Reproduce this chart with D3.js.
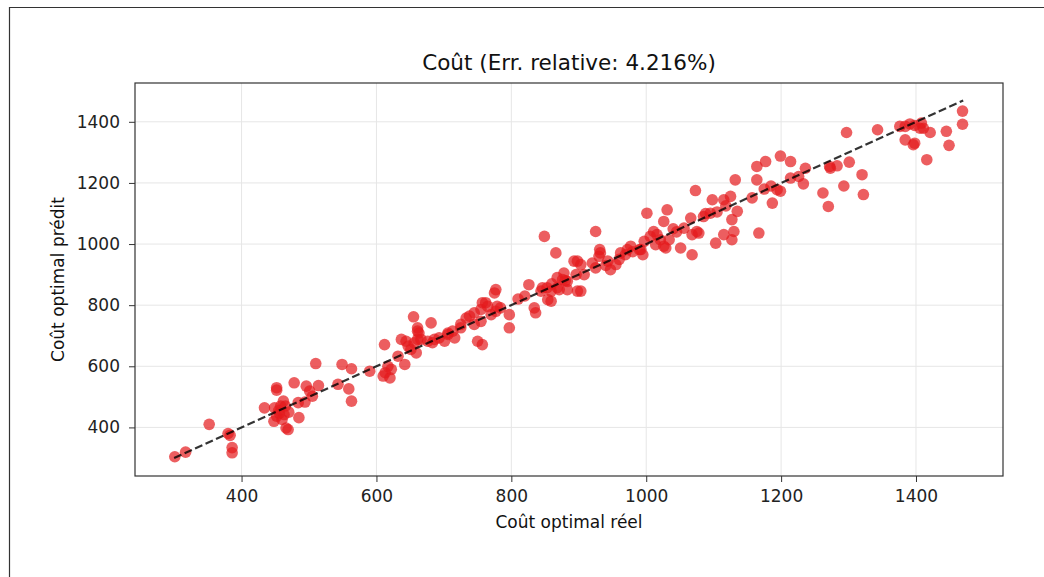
<!DOCTYPE html>
<html><head><meta charset="utf-8">
<script src="https://cdn.jsdelivr.net/npm/d3@7"></script>
<style>
body{margin:0;background:#fff;}
svg{display:block;font-family:"DejaVu Sans",sans-serif;}
</style></head>
<body><svg id="c" width="1044" height="577"></svg>
<script>
const titleText = "Coût (Err. relative: 4.216%)";
const xLabel = "Coût optimal réel";
const yLabel = "Coût optimal prédit";
const xTicks = [400, 600, 800, 1000, 1200, 1400];
const yTicks = [400, 600, 800, 1000, 1200, 1400];
const xDomain = [242, 1529];
const yDomain = [241, 1527];
const diagLine = [300, 1470];
const actual = [301,317,352,380,383,386,386,434,452,452,449,452,460,463,462,469,466,478,484,485,496,501,505,494,514,510,543,549,563,559,563,590,455,458,448,465,470,456,
612,613,617,610,620,622,632,637,642,644,647,651,656,659,661,661,655,661,663,666,676,681,683,686,693,701,706,706,713,716,725,725,733,738,745,745,750,755,755,757,757,762,765,770,775,777,777,779,784,797,797,
826,834,836,844,846,849,853,859,854,859,866,868,868,871,876,878,883,883,893,896,898,898,903,903,908,920,925,925,930,931,932,943,947,955,962,969,972,977,990,992,995,997,1001,1006,1011,1014,1016,1021,1026,1026,1029,1031,1034,1051,1056,1066,1068,1068,1073,1075,1078,1085,1095,1098,1103,1115,1115,1125,1127,1130,1127,1135,1132,1157,1167,1164,1164,1177,1187,1194,1199,1199,1214,1214,1226,1236,1233,1262,1270,1273,1283,1272,1301,1293,1320,1322,1297,1343,1376,1384,1391,1398,1406,1411,1408,1384,1398,1396,1421,1416,1445,1449,1469,1469,
1088,1105,1118,1175,1185,1040,1045,980,960,940,880,860,820,810];
const predicted = [304,319,410,380,374,334,317,464,530,522,464,437,426,442,486,393,398,546,481,432,535,519,502,483,537,609,541,606,592,526,486,584,455,470,420,470,450,447,
671,579,600,568,562,590,633,688,606,682,666,655,677,644,715,688,762,726,709,688,682,742,677,688,693,682,704,709,715,693,737,726,758,764,775,737,682,786,747,808,671,808,796,769,840,851,780,796,791,769,726,
867,791,775,846,857,1025,857,846,818,813,971,857,890,851,884,905,851,878,944,900,846,944,933,846,900,938,922,1041,960,982,971,944,916,933,971,965,982,993,982,982,965,1009,1101,1025,1041,998,1031,1014,1074,993,987,1112,1014,987,1052,1085,965,1031,1175,1041,1036,1090,1101,1145,1003,1031,1145,1156,1080,1041,1014,1107,1210,1151,1036,1210,1254,1270,1134,1178,1288,1173,1270,1216,1221,1248,1197,1167,1123,1248,1256,1254,1268,1190,1227,1162,1365,1374,1385,1385,1393,1388,1379,1379,1396,1341,1330,1325,1365,1276,1369,1323,1435,1392,
1100,1105,1125,1180,1190,1050,1040,975,950,930,880,870,830,820];

const svg = d3.select("#c");
const L = 135, R = 1003, T = 83, B = 476;

// outer frame
svg.append("path").attr("d", "M1044,7.5 H9.5 V577").attr("fill","none").attr("stroke","#333").attr("stroke-width",1.2);

const x = d3.scaleLinear().domain(xDomain).range([L, R]);
const y = d3.scaleLinear().domain(yDomain).range([B, T]);

const g = svg.append("g");
// grid
g.selectAll(".gx").data(xTicks).join("line")
  .attr("x1", d=>x(d)).attr("x2", d=>x(d)).attr("y1", T).attr("y2", B)
  .attr("stroke", "#e6e6e6").attr("stroke-width", 1);
g.selectAll(".gy").data(yTicks).join("line")
  .attr("y1", d=>y(d)).attr("y2", d=>y(d)).attr("x1", L).attr("x2", R)
  .attr("stroke", "#e6e6e6").attr("stroke-width", 1);

// points
const pts = actual.map((v,i)=>[v, predicted[i]]);
g.selectAll("circle").data(pts).join("circle")
  .attr("cx", d=>x(d[0])).attr("cy", d=>y(d[1])).attr("r", 5.8)
  .attr("fill", "#e41a1c").attr("fill-opacity", 0.7);

// diagonal
g.append("line")
  .attr("x1", x(diagLine[0])).attr("y1", y(diagLine[0]))
  .attr("x2", x(diagLine[1])).attr("y2", y(diagLine[1]))
  .attr("stroke", "#000").attr("stroke-opacity", 0.8).attr("stroke-width", 2.2)
  .attr("stroke-dasharray", "8,3.5");

// axes
const fmt = d3.format("d");
const xa = svg.append("g").attr("transform", `translate(0,${B})`)
  .call(d3.axisBottom(x).tickValues(xTicks).tickFormat(fmt).tickSize(6).tickPadding(8).tickSizeOuter(0));
const ya = svg.append("g").attr("transform", `translate(${L},0)`)
  .call(d3.axisLeft(y).tickValues(yTicks).tickFormat(fmt).tickSize(6).tickPadding(9).tickSizeOuter(0));
[xa, ya].forEach(a => {
  a.select(".domain").remove();
  a.selectAll("text").attr("font-size", 17).attr("fill", "#222").attr("font-family", "DejaVu Sans");
  a.selectAll("line").attr("stroke", "#333");
});
// spines
svg.append("rect").attr("x", L).attr("y", T).attr("width", R-L).attr("height", B-T)
  .attr("fill", "none").attr("stroke", "#333").attr("stroke-width", 1.2);

svg.append("text").attr("x", (L+R)/2).attr("y", 70).attr("text-anchor","middle")
  .attr("font-size", 21.5).attr("fill","#111").text(titleText);
svg.append("text").attr("x", (L+R)/2).attr("y", 528).attr("text-anchor","middle")
  .attr("font-size", 17).attr("fill","#111").text(xLabel);
svg.append("text").attr("transform", `translate(64,${(T+B)/2}) rotate(-90)`).attr("text-anchor","middle")
  .attr("font-size", 17).attr("fill","#111").text(yLabel);
</script></body></html>
